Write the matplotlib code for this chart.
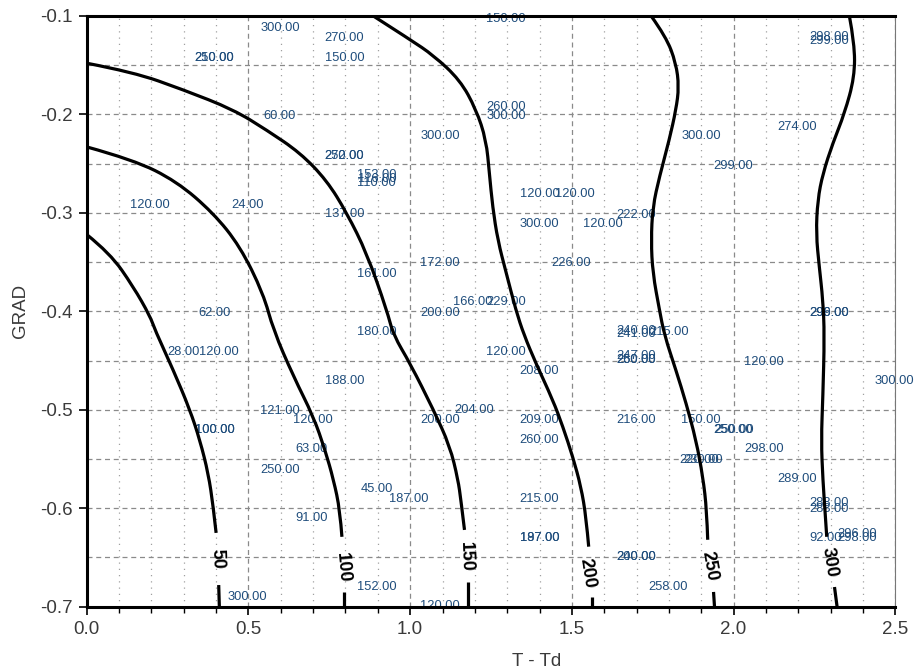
import matplotlib.pyplot as plt
import numpy as np
from matplotlib.path import Path
from matplotlib.patches import PathPatch
from matplotlib.ticker import MultipleLocator

plt.rcParams['font.family'] = ['Liberation Sans', 'DejaVu Sans']

# contour levels: upper part of each line (T-Td, GRAD) and the short stub below its label
levels = [50, 100, 150, 200, 250, 300]

c50_x = [0.0, 0.072, 0.144, 0.196, 0.211, 0.268, 0.319, 0.350, 0.376, 0.391, 0.400]
c50_y = [-0.322, -0.341, -0.375, -0.405, -0.419, -0.460, -0.500, -0.531, -0.565, -0.598, -0.625]
c100_x = [0.0, 0.144, 0.278, 0.391, 0.474, 0.546, 0.577, 0.639, 0.701, 0.737, 0.763, 0.783, 0.789]
c100_y = [-0.233, -0.246, -0.268, -0.300, -0.334, -0.382, -0.419, -0.466, -0.507, -0.541, -0.571, -0.602, -0.629]
c150_x = [0.0, 0.144, 0.299, 0.453, 0.557, 0.660, 0.742, 0.804, 0.866, 0.928, 0.948,
          1.000, 1.072, 1.123, 1.148, 1.157, 1.168]
c150_y = [-0.148, -0.157, -0.175, -0.195, -0.216, -0.239, -0.267, -0.300, -0.341, -0.399, -0.424,
          -0.453, -0.500, -0.537, -0.571, -0.592, -0.622]
c200_x = [0.886, 1.000, 1.072, 1.154, 1.204, 1.235, 1.245, 1.255, 1.271, 1.297, 1.327,
          1.352, 1.389, 1.441, 1.472, 1.503, 1.528, 1.544, 1.552]
c200_y = [-0.100, -0.124, -0.140, -0.165, -0.195, -0.226, -0.260, -0.294, -0.328, -0.361, -0.399,
          -0.424, -0.453, -0.490, -0.517, -0.548, -0.578, -0.609, -0.639]
c250_x = [1.745, 1.791, 1.822, 1.831, 1.822, 1.801, 1.771, 1.750, 1.745, 1.750, 1.771,
          1.786, 1.822, 1.853, 1.884, 1.905, 1.917, 1.920]
c250_y = [-0.100, -0.121, -0.148, -0.172, -0.195, -0.226, -0.263, -0.294, -0.328, -0.361, -0.399,
          -0.424, -0.460, -0.493, -0.531, -0.568, -0.602, -0.632]
c300_x = [2.358, 2.374, 2.374, 2.343, 2.307, 2.276, 2.260, 2.255, 2.265, 2.276, 2.281,
          2.276, 2.271, 2.276, 2.284, 2.288]
c300_y = [-0.100, -0.128, -0.162, -0.199, -0.229, -0.260, -0.287, -0.321, -0.355, -0.388, -0.424,
          -0.487, -0.531, -0.571, -0.609, -0.629]

stub_x = [(0.408, 0.410), (0.796, 0.796), (1.178, 1.178), (1.562, 1.562), (1.938, 1.941), (2.312, 2.320)]
stub_y = [(-0.678, -0.700), (-0.685, -0.700), (-0.675, -0.700), (-0.690, -0.700), (-0.685, -0.700), (-0.680, -0.700)]

label_x = [0.404, 0.792, 1.173, 1.547, 1.924, 2.295]
label_y = [-0.651, -0.660, -0.649, -0.666, -0.659, -0.655]
label_rot = [-88, -85, -88, -81, -80, -81]

# scattered station values
pt_text = ["300.00", "270.00", "250.00", "210.00", "150.00", "60.00", "300.00", "270.00", "252.00",
           "153.00", "116.00", "110.00", "120.00", "24.00", "137.00", "161.00", "172.00", "62.00",
           "200.00", "180.00", "150.00", "260.00", "300.00", "300.00", "274.00", "299.00", "298.00",
           "299.00", "120.00", "120.00", "300.00", "120.00", "222.00", "226.00", "166.00", "229.00",
           "296.00", "299.00", "240.00", "241.00", "215.00", "28.00", "120.00", "188.00", "121.00",
           "120.00", "100.00", "100.00", "63.00", "250.00", "45.00", "187.00", "91.00", "152.00",
           "300.00", "120.00", "200.00", "204.00", "120.00", "208.00", "247.00", "260.00", "250.00",
           "120.00", "300.00", "209.00", "216.00", "150.00", "250.00", "250.00", "260.00", "298.00",
           "220.00", "230.00", "289.00", "215.00", "288.00", "283.00", "187.00", "197.00", "92.00",
           "296.00", "298.00", "240.00", "200.00", "258.00"]
pt_x = [0.598, 0.797, 0.395, 0.395, 0.797, 0.596, 1.092, 0.797, 0.797,
        0.897, 0.897, 0.897, 0.196, 0.497, 0.797, 0.897, 1.092, 0.395,
        1.092, 0.897, 1.297, 1.297, 1.297, 1.899, 2.197, 1.999, 2.296,
        2.296, 1.400, 1.508, 1.400, 1.597, 1.699, 1.498, 1.194, 1.297,
        2.296, 2.296, 1.699, 1.699, 1.800, 0.299, 0.407, 0.797, 0.598,
        0.698, 0.395, 0.397, 0.696, 0.598, 0.897, 0.997, 0.696, 0.897,
        0.497, 1.092, 1.092, 1.199, 1.297, 1.400, 1.699, 1.699, 1.699,
        2.095, 2.497, 1.400, 1.699, 1.900, 1.999, 2.001, 1.400, 2.095,
        1.895, 1.905, 2.197, 1.400, 2.296, 2.296, 1.400, 1.400, 2.286,
        2.381, 2.381, 1.699, 1.699, 1.797]
pt_y = [-0.1125, -0.122, -0.143, -0.143, -0.143, -0.2016, -0.222, -0.242, -0.242,
        -0.2615, -0.2656, -0.2696, -0.292, -0.292, -0.3014, -0.362, -0.351, -0.402,
        -0.402, -0.421, -0.1034, -0.192, -0.2016, -0.222, -0.2124, -0.2524, -0.1215,
        -0.1255, -0.281, -0.281, -0.311, -0.311, -0.302, -0.351, -0.391, -0.391,
        -0.402, -0.402, -0.4195, -0.4235, -0.4207, -0.4416, -0.4416, -0.4704, -0.501,
        -0.5104, -0.5205, -0.5205, -0.540, -0.561, -0.5804, -0.591, -0.610, -0.680,
        -0.690, -0.699, -0.5104, -0.500, -0.4416, -0.461, -0.4454, -0.4494, -0.4494,
        -0.4518, -0.4707, -0.5104, -0.5104, -0.5104, -0.5205, -0.5205, -0.5307, -0.540,
        -0.551, -0.551, -0.5706, -0.591, -0.595, -0.601, -0.6305, -0.6305, -0.6305,
        -0.6262, -0.6303, -0.650, -0.650, -0.680]

contours_x = [c50_x, c100_x, c150_x, c200_x, c250_x, c300_x]
contours_y = [c50_y, c100_y, c150_y, c200_y, c250_y, c300_y]


def smooth_line(ax, xs, ys, **kw):
    # quadratic b-spline through the read points (points act as control points)
    pts = list(zip(xs, ys))
    verts = [pts[0]]
    codes = [Path.MOVETO]
    for i in range(1, len(pts) - 1):
        end = pts[-1] if i == len(pts) - 2 else ((pts[i][0] + pts[i + 1][0]) / 2,
                                                 (pts[i][1] + pts[i + 1][1]) / 2)
        verts += [pts[i], end]
        codes += [Path.CURVE3, Path.CURVE3]
    ax.add_patch(PathPatch(Path(verts, codes), fill=False, **kw))


fig = plt.figure(figsize=(9.16, 6.71), dpi=100)
ax = fig.add_axes([0.0947, 0.0958, 0.8827, 0.8804])

for i, lev in enumerate(levels):
    smooth_line(ax, contours_x[i], contours_y[i], edgecolor="black", lw=2.3, capstyle="butt", zorder=3)
    ax.plot(stub_x[i], stub_y[i], color="black", lw=2.3, solid_capstyle="butt", zorder=3)
    ax.text(label_x[i], label_y[i], str(lev), rotation=label_rot[i], ha="center", va="center",
            fontsize=13, fontweight="bold", color="black", rotation_mode="anchor", zorder=4)

for t, x, y in zip(pt_text, pt_x, pt_y):
    ax.text(x, y, t, ha="center", va="center", fontsize=9.3, color="#1f4d7c",
            zorder=2, clip_on=False)

ax.set_xlim(0, 2.5)
ax.set_ylim(-0.7, -0.1)
ax.xaxis.set_major_locator(MultipleLocator(0.5))
ax.xaxis.set_minor_locator(MultipleLocator(0.1))
ax.yaxis.set_major_locator(MultipleLocator(0.1))
ax.yaxis.set_minor_locator(MultipleLocator(0.05))

ax.grid(which="major", axis="x", color="#8a8a8a", ls=(0, (4, 3)), lw=0.9)
ax.grid(which="minor", axis="x", color="#a0a0a0", ls=(0, (1, 4)), lw=0.9)
ax.grid(which="both", axis="y", color="#8a8a8a", ls=(0, (4, 3)), lw=0.9)
ax.set_axisbelow(True)

ax.tick_params(which="major", length=6, width=1.2, color="black", labelsize=13.5,
               labelcolor="#3a3a3a", pad=4)
ax.tick_params(which="minor", axis="x", length=4, width=1.0, color="black")
ax.tick_params(which="minor", axis="y", length=0)
ax.yaxis.set_major_formatter(plt.FuncFormatter(lambda v, p: f"{v:.1f}"))
ax.xaxis.set_major_formatter(plt.FuncFormatter(lambda v, p: f"{v:.1f}"))

for s in ["left", "bottom", "top"]:
    ax.spines[s].set_linewidth(2.2)
    ax.spines[s].set_color("black")
    ax.spines[s].set_zorder(5)
ax.spines["right"].set_linewidth(0.8)
ax.spines["right"].set_color("#777777")

fig.text(0.0229, 0.5365, "GRAD", rotation=90, ha="center", va="center", fontsize=13.5, color="#3a3a3a")
fig.text(0.586, 0.014, "T - Td", ha="center", va="center", fontsize=13.5, color="#3a3a3a")

fig.savefig("out.png", dpi=100)
